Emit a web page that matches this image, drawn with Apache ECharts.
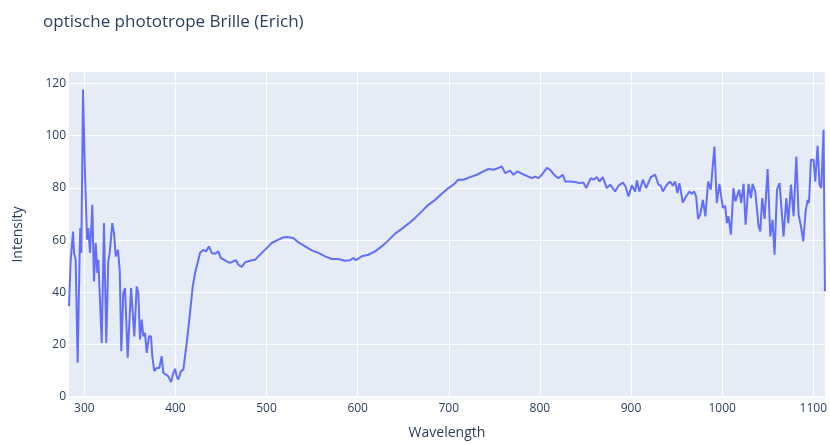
<!DOCTYPE html>
<html>
<head>
<meta charset="utf-8">
<script src="https://cdn.jsdelivr.net/npm/echarts@6/dist/echarts.min.js"></script>
<style>html,body{margin:0;padding:0;background:#fff}#c{width:830px;height:445px}</style>
</head>
<body>
<div id="c"></div>
<script>
const titleText = "optische phototrope Brille (Erich)";
const xName = "Wavelength";
const yName = "Intensity";

const wavelength = [
283.2,285.0,287.6,288.7,290.5,292.7,295.0,295.6,296.7,298.6,300.4,303.0,304.4,306.3,308.8,310.6,312.5,314.3,315.4,316.9,
319.1,321.6,324.1,326.3,327.9,330.7,332.6,334.5,337.0,338.9,340.6,342.8,344.7,347.6,351.3,354.9,357.5,359.3,361.1,363.0,
364.8,366.6,368.5,371.0,373.2,374.6,376.8,379.5,382.3,384.9,386.7,389.4,392.2,395.2,397.7,399.6,401.4,403.2,406.1,408.7,
412.4,416.0,419.0,421.5,423.4,427.0,430.6,433.6,436.9,439.8,443.5,447.1,449.7,453.3,456.3,459.9,463.6,466.5,469.1,472.8,
476.4,480.0,483.8,487.4,491.0,496.5,502.0,505.7,513.0,518.0,522.2,529.4,535.0,542.3,549.6,556.9,564.2,571.6,578.8,586.2,
591.7,595.3,597.9,604.5,611.7,619.1,626.4,633.7,641.1,648.4,655.7,663.0,670.4,677.6,685.0,692.3,699.6,705.0,710.5,716.0,
723.4,730.7,738.0,743.5,749.0,754.5,758.2,761.8,767.3,771.0,775.3,780.2,785.6,791.1,794.8,798.4,802.1,807.6,811.2,816.7,
820.3,825.2,827.7,833.2,838.7,844.1,847.8,850.8,855.8,858.7,862.5,865.3,869.0,873.4,877.1,882.5,886.2,891.0,894.0,897.2,
900.9,904.5,906.4,909.2,913.0,916.6,921.7,926.5,930.1,932.7,934.9,939.3,942.9,945.9,948.4,950.9,953.1,956.8,960.4,964.1,
966.7,969.2,971.4,973.6,975.9,978.8,981.6,984.6,987.5,991.5,994.1,997.0,1000.8,1003.3,1005.2,1007.0,1009.6,1012.4,1014.6,1016.2,
1018.7,1020.9,1023.5,1025.7,1029.0,1031.6,1033.4,1036.3,1040.0,1041.8,1044.0,1046.6,1049.9,1052.8,1055.3,1057.5,1060.2,1063.0,1067.4,1070.4,
1072.6,1075.5,1078.4,1081.4,1083.9,1086.5,1089.0,1091.6,1093.8,1095.3,1097.4,1100.3,1102.2,1104.7,1106.9,1108.8,1111.3,1112.8
];

const intensity = [
34.7,51.9,63.3,55.1,52.5,13.1,57.6,64.6,55.1,117.6,89.5,60.2,64.6,55.1,73.5,44.2,58.9,47.4,52.5,51.9,
20.7,66.5,20.7,51.9,55.1,66.5,62.7,53.8,56.3,48.1,17.5,39.8,41.7,15.0,41.7,23.2,42.3,39.8,22.0,29.6,
23.2,24.5,16.9,23.2,23.2,15.6,9.9,11.1,11.1,15.6,9.2,8.6,7.9,5.7,9.2,10.8,7.9,6.7,9.9,10.5,
20.7,32.2,42.3,47.4,50.0,55.1,56.3,55.7,57.6,55.1,54.8,55.7,53.2,52.5,51.9,51.3,51.9,52.3,50.6,49.7,
51.5,51.9,52.3,52.5,53.8,55.7,57.6,58.9,60.2,61.0,61.2,60.8,59.1,57.6,56.1,55.1,53.8,52.8,52.8,52.1,
52.3,53.2,52.3,53.8,54.4,55.7,57.6,59.9,62.5,64.3,66.3,68.5,71.0,73.5,75.4,77.7,79.9,81.2,83.1,83.1,
84.1,85.0,86.3,87.2,86.9,87.6,88.2,85.6,86.6,85.0,86.3,85.4,84.6,83.7,84.3,83.7,85.0,87.6,86.9,84.6,
83.7,85.0,82.4,82.4,82.2,81.8,82.0,79.9,83.7,83.1,84.1,82.4,84.1,79.9,81.2,78.6,80.8,82.0,80.5,76.7,
81.0,78.6,82.8,78.6,83.1,79.9,84.1,85.0,81.2,80.8,78.6,81.2,82.4,80.8,82.4,78.0,81.8,74.4,76.7,78.6,
77.7,78.6,76.7,68.1,69.7,75.4,69.1,82.4,79.3,95.8,74.2,81.5,72.3,73.2,66.5,69.1,62.1,79.9,74.8,75.4,
79.3,74.2,81.5,65.9,81.5,76.1,81.5,78.6,65.2,63.3,76.1,68.1,87.2,61.4,67.8,54.4,79.3,81.8,61.4,76.1,
66.5,81.2,69.1,92.0,69.7,65.2,59.5,71.0,75.4,74.2,90.7,90.7,82.4,96.1,81.2,79.9,102.2,40.4
];

const xMin = 283.2, xMax = 1112.8;
const yMin = 0, yMax = 124.3, yStep = 20;

const seriesData = wavelength.map((w, i) => [w, intensity[i]]);

const chart = echarts.init(document.getElementById('c'), null, {renderer: 'canvas'});
const font = "'Open Sans', verdana, arial, sans-serif";
chart.setOption({
  animation: false,
  backgroundColor: '#ffffff',
  title: {
    text: titleText,
    left: 38,
    top: 9,
    textStyle: {fontFamily: font, fontSize: 17, fontWeight: 'normal', color: '#2a3f5f'}
  },
  grid: {
    left: 69, right: 5, top: 72, bottom: 47.5,
    show: true, backgroundColor: '#E5ECF6', borderWidth: 0
  },
  graphic: [{
    type: 'rect', shape: {x: 69, y: 398.5, width: 756, height: 1},
    style: {fill: '#E5ECF6'}, silent: true, z: 0
  }],
  xAxis: {
    type: 'value', min: xMin, max: xMax, splitNumber: 8,
    name: xName, nameLocation: 'middle', nameGap: 29,
    nameTextStyle: {fontFamily: font, fontSize: 14, color: '#2a3f5f'},
    axisLine: {show: false},
    axisTick: {show: false},
    axisLabel: {
      margin: 6, fontFamily: font, fontSize: 12, color: '#2a3f5f',
      formatter: v => (Math.abs(v % 100) < 1e-6 ? String(Math.round(v)) : '')
    },
    splitLine: {show: true, showMinLine: false, showMaxLine: false, lineStyle: {color: '#ffffff', width: 1}}
  },
  yAxis: {
    type: 'value', min: yMin, max: yMax, interval: yStep,
    name: yName, nameLocation: 'middle', nameGap: 44,
    nameTextStyle: {fontFamily: font, fontSize: 14, color: '#2a3f5f'},
    axisLine: {show: false},
    axisTick: {show: false},
    axisLabel: {
      margin: 3, fontFamily: font, fontSize: 12, color: '#2a3f5f', showMaxLabel: false,
      formatter: v => (Math.abs(v % 20) < 1e-6 ? String(Math.round(v)) : '')
    },
    splitLine: {show: true, showMaxLine: false, lineStyle: {color: '#ffffff', width: 1}}
  },
  series: [{
    type: 'line',
    data: seriesData,
    showSymbol: false,
    symbol: 'none',
    lineStyle: {color: '#636efa', width: 2},
    itemStyle: {color: '#636efa'},
    z: 3
  }, {
    type: 'line',
    data: [[xMin, 0], [xMax, 0]],
    showSymbol: false, symbol: 'none', silent: true,
    lineStyle: {color: '#ffffff', width: 2},
    z: 2
  }]
});
</script>
</body>
</html>
